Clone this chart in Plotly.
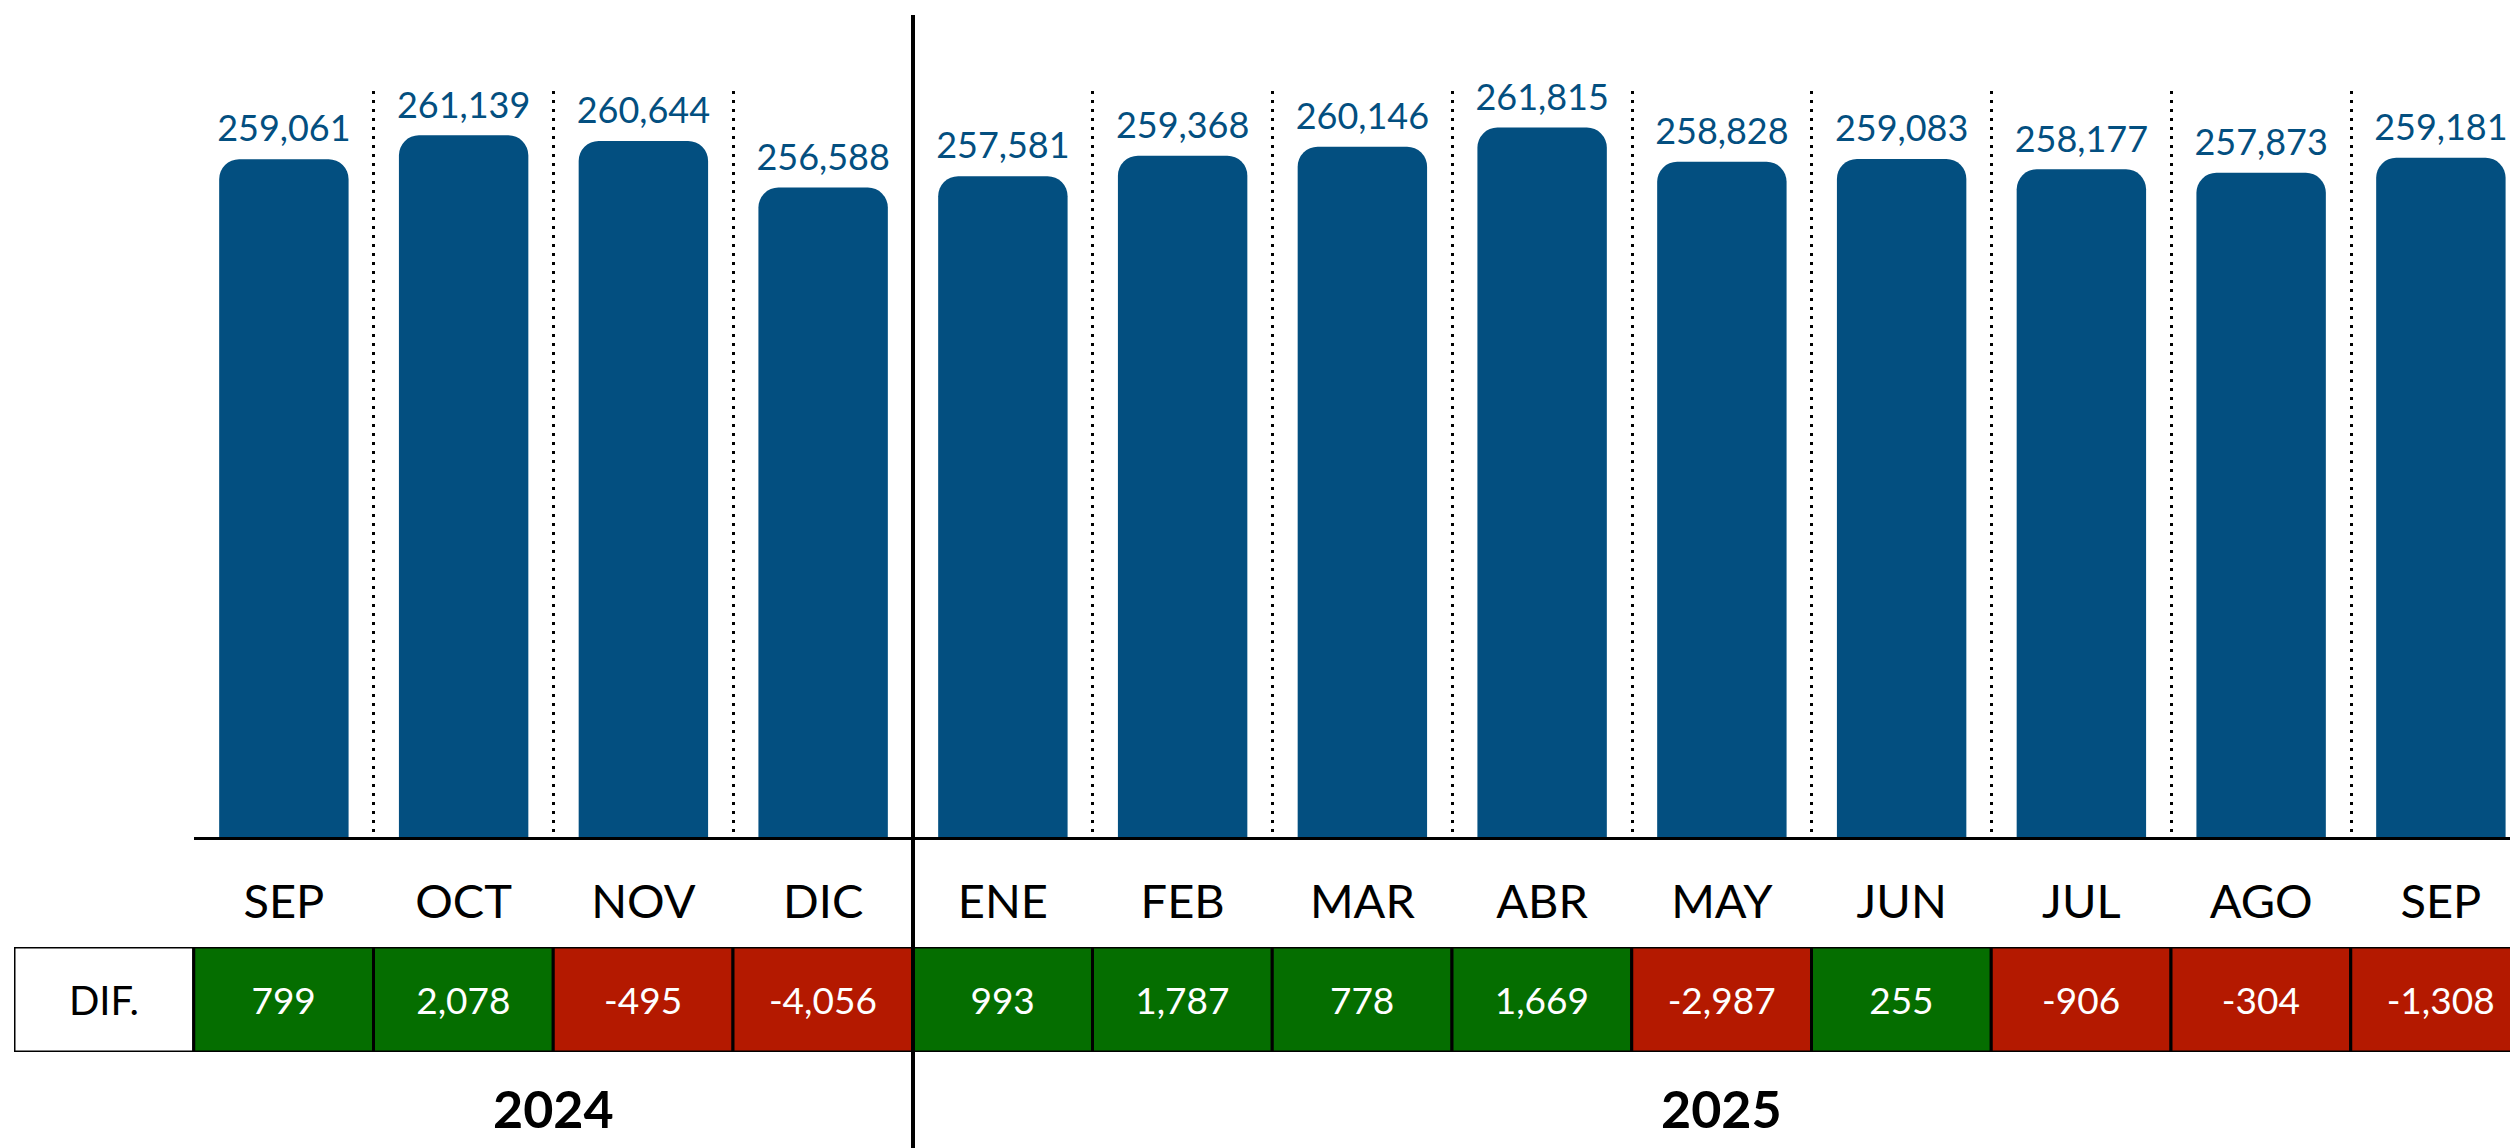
import plotly.graph_objects as go

# ---- data ----
months = ["SEP", "OCT", "NOV", "DIC", "ENE", "FEB", "MAR", "ABR", "MAY", "JUN", "JUL", "AGO", "SEP"]
years = ["2024"] * 4 + ["2025"] * 9
totals = [259061, 261139, 260644, 256588, 257581, 259368, 260146, 261815,
          258828, 259083, 258177, 257873, 259181]
diffs = [799, 2078, -495, -4056, 993, 1787, 778, 1669, -2987, 255, -906, -304, -1308]
row_label = "DIF."

# ---- style / geometry ----
W, H = 2518, 1148
OFF = 8            # page body margin
PXU = 179.75       # pixels per category
BLUE = "#034F80"
GREEN = "#056E00"
RED = "#B41900"
FONT = "Lato"
idx = list(range(len(months)))


def px_x(p):
    return (p - OFF) / W


def px_y(p):
    return (H - (p - OFF)) / H


x0_main = 194 - OFF
x0_tab = 14 - OFF
xr_main = [-0.5, -0.5 + (W - x0_main) / PXU]
xr_tab = [-1.5, -1.5 + (W - x0_tab) / PXU]

fig = go.Figure()

# main bars
fig.add_trace(go.Bar(
    x=idx, y=totals, width=0.72,
    marker=dict(color=BLUE, cornerradius=20, line_width=0),
    xaxis="x", yaxis="y", hoverinfo="skip",
))

# value labels above bars
fig.add_trace(go.Scatter(
    x=idx, y=totals, mode="markers+text",
    marker=dict(size=12.4, color="rgba(0,0,0,0)"),
    text=[f"{v:,}" for v in totals], textposition="top center", cliponaxis=False,
    textfont=dict(family=FONT, size=36, color=BLUE),
    xaxis="x", yaxis="y", hoverinfo="skip",
))

# difference row (table)
tx = [-1] + idx
fig.add_trace(go.Bar(
    x=tx, y=[1] * len(tx), base=0, width=1,
    marker=dict(color=["white"] + [GREEN if d >= 0 else RED for d in diffs],
                line=dict(color="black", width=3)),
    text=[row_label] + [f"{d:,}" for d in diffs],
    textposition="inside", insidetextanchor="middle", constraintext="none",
    textfont=dict(family=FONT, size=[40] + [37] * len(diffs),
                  color=["black"] + ["white"] * len(diffs)),
    xaxis="x2", yaxis="y2", hoverinfo="skip",
))

# vertical year separator
split = years.index("2025") - 0.5
fig.add_shape(type="line", xref="x", yref="paper", x0=split, x1=split,
              y0=0, y1=px_y(15), line=dict(color="black", width=4), layer="above")

# year labels
for yr in dict.fromkeys(years):
    pos = [i for i, y in enumerate(years) if y == yr]
    fig.add_annotation(x=(pos[0] + pos[-1]) / 2, xref="x", y=px_y(1108), yref="paper",
                       yanchor="middle", text=f"<b>{yr}</b>", showarrow=False,
                       font=dict(family=FONT, size=52, color="black"))

fig.update_layout(
    width=W, height=H, margin=dict(l=0, r=0, t=0, b=0),
    paper_bgcolor="white", plot_bgcolor="white", showlegend=False,
    xaxis=dict(domain=[x0_main / W, 1], range=xr_main, tickvals=idx, ticktext=months,
               showgrid=False, zeroline=False, showline=True, linecolor="black", linewidth=3,
               ticks="", ticklabelstandoff=22,
               tickfont=dict(family=FONT, size=47, color="black"),
               minor=dict(tickvals=[i - 0.5 for i in idx] + [idx[-1] + 0.5], showgrid=True,
                          gridcolor="black", gridwidth=2.5, griddash="3px,6px", ticks=""),
               anchor="y"),
    yaxis=dict(domain=[px_y(837), px_y(91)], range=[200000, 265000], visible=False,
               anchor="x"),
    xaxis2=dict(domain=[x0_tab / W, 1], range=xr_tab, visible=False, anchor="y2"),
    yaxis2=dict(domain=[px_y(1052), px_y(947)], range=[0, 1], visible=False,
                anchor="x2"),
)

fig.write_html("out.html")
